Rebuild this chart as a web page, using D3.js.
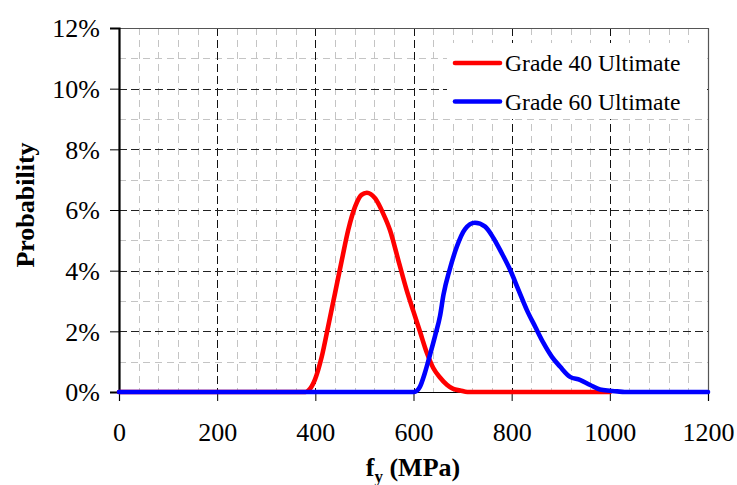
<!DOCTYPE html>
<html>
<head>
<meta charset="utf-8">
<script src="https://cdn.jsdelivr.net/npm/d3@7"></script>
<style>
  body { margin: 0; background: #fff; }
  svg { display: block; }
  text { font-family: "Liberation Serif", "Times New Roman", serif; fill: #000; }
</style>
</head>
<body>
<svg id="chart" width="737" height="485"></svg>
<script>
// ---- data ----
const seriesNames = ["Grade 40 Ultimate", "Grade 60 Ultimate"];
const seriesColors = ["#ff0000", "#0000ff"];
const xTicks = [0, 200, 400, 600, 800, 1000, 1200];
const yTicks = [0, 0.02, 0.04, 0.06, 0.08, 0.10, 0.12];
// Grade 40 ultimate strength: [fy (MPa), probability]
const grade40X = [0, 380, 386, 399, 413, 426, 440, 454, 467, 481, 494, 505, 522, 538, 552, 569, 586, 600, 613, 627, 640, 654, 668, 681, 695, 710, 1000];
const grade40P = [0, 0, 0.0005, 0.004, 0.0116, 0.0215, 0.0325, 0.0435, 0.0534, 0.0611, 0.0650, 0.0657, 0.0638, 0.0589, 0.0534, 0.0435, 0.0336, 0.0265, 0.0200, 0.0130, 0.0080, 0.0048, 0.0024, 0.0010, 0.0005, 0, 0];
// Grade 60 ultimate strength
const grade60X = [0, 600, 606, 613, 623, 634, 644, 654, 661, 674, 688, 705, 725, 746, 763, 780, 797, 814, 831, 848, 865, 882, 899, 919, 939, 960, 980, 1000, 1015, 1030, 1200];
const grade60P = [0, 0, 0.0003, 0.0017, 0.0062, 0.0125, 0.0185, 0.0250, 0.0320, 0.0405, 0.0478, 0.0537, 0.0558, 0.0545, 0.0507, 0.0457, 0.0402, 0.0336, 0.0270, 0.0215, 0.0161, 0.0116, 0.0083, 0.0050, 0.0040, 0.0023, 0.0008, 0.0004, 0.0002, 0, 0];

// ---- layout ----
const svg = d3.select("#chart");
const L = 119, R = 708, T = 28, B = 392;
const x = d3.scaleLinear().domain([0, 1200]).range([L, R]);
const y = d3.scaleLinear().domain([0, 0.12]).range([B, T]);

// minor gridlines
const xMinor = d3.range(0, 1201, 40).filter(v => v % 200 !== 0);
const yMinor = d3.range(0.01, 0.12, 0.02);
const grid = svg.append("g");
grid.selectAll(".vmin").data(xMinor).join("line")
  .attr("x1", d => Math.round(x(d)) + 0.5).attr("x2", d => Math.round(x(d)) + 0.5)
  .attr("y1", T).attr("y2", B)
  .attr("stroke", "#c4c4c4").attr("stroke-width", 1).attr("stroke-dasharray", "7,5");
grid.selectAll(".hmin").data(yMinor).join("line")
  .attr("x1", L).attr("x2", R)
  .attr("y1", d => Math.round(y(d)) + 0.5).attr("y2", d => Math.round(y(d)) + 0.5)
  .attr("stroke", "#c4c4c4").attr("stroke-width", 1).attr("stroke-dasharray", "7,5");
// major gridlines
grid.selectAll(".vmaj").data(xTicks.filter(d => d > 0 && d < 1200)).join("line")
  .attr("x1", d => Math.round(x(d)) + 0.5).attr("x2", d => Math.round(x(d)) + 0.5)
  .attr("y1", T).attr("y2", B)
  .attr("stroke", "#111").attr("stroke-width", 1).attr("stroke-dasharray", "8,4");
grid.selectAll(".hmaj").data(yTicks.filter(d => d > 0 && d < 0.12)).join("line")
  .attr("x1", L).attr("x2", R)
  .attr("y1", d => Math.round(y(d)) + 0.5).attr("y2", d => Math.round(y(d)) + 0.5)
  .attr("stroke", "#222").attr("stroke-width", 1).attr("stroke-dasharray", "8,4");
// plot border top & right
svg.append("path")
  .attr("d", `M${L},${T + 0.5}H${R + 0.5}V${B}`)
  .attr("fill", "none").attr("stroke", "#555").attr("stroke-width", 1.2);

// legend background
svg.append("rect").attr("x", 447).attr("y", 43).attr("width", 258).attr("height", 76).attr("fill", "#fff");

// axes
const xAxis = d3.axisBottom(x).tickValues(xTicks).tickSize(9).tickPadding(22).tickFormat(d3.format("d"));
const gx = svg.append("g").attr("transform", `translate(0,${B})`).call(xAxis);
gx.select(".domain").attr("stroke", "#000").attr("stroke-width", 1.2);
gx.selectAll(".tick line").attr("stroke", "#000");
gx.selectAll(".tick text").attr("font-size", 26).attr("font-family", "Liberation Serif").attr("fill", "#000");

const yAxis = d3.axisLeft(y).tickValues(yTicks).tickSize(9).tickPadding(10).tickFormat(d3.format(".0%"));
const gy = svg.append("g").attr("transform", `translate(${L},0)`).call(yAxis);
gy.select(".domain").attr("stroke", "#000").attr("stroke-width", 2.2);
gy.selectAll(".tick line").attr("stroke", "#000");
gy.selectAll(".tick text").attr("font-size", 26).attr("font-family", "Liberation Serif").attr("fill", "#000").attr("dy", "0.34em");

// lines
const mk = (xs, ps) => xs.map((v, i) => [v, ps[i]]);
const line = d3.line().x(d => x(d[0])).y(d => y(d[1])).curve(d3.curveMonotoneX);
const datasets = [mk(grade40X, grade40P), mk(grade60X, grade60P)];
datasets.forEach((ds, i) => {
  svg.append("path").datum(ds).attr("d", line)
    .attr("fill", "none").attr("stroke", seriesColors[i]).attr("stroke-width", 4.6)
    .attr("stroke-linejoin", "round").attr("stroke-linecap", "round");
});

// legend
const lg = svg.append("g");
seriesNames.forEach((name, i) => {
  const yy = 63 + i * 38.5;
  lg.append("line").attr("x1", 455).attr("x2", 500).attr("y1", yy).attr("y2", yy)
    .attr("stroke", seriesColors[i]).attr("stroke-width", 4.6).attr("stroke-linecap", "round");
  lg.append("text").attr("x", 505).attr("y", yy + 8).attr("font-size", 23.6).text(name);
});

// axis titles
const xt = svg.append("text").attr("x", 413).attr("y", 476).attr("text-anchor", "middle")
  .attr("font-size", 26).attr("font-weight", "bold");
xt.append("tspan").text("f");
xt.append("tspan").attr("font-size", 17).attr("dy", 6).text("y");
xt.append("tspan").attr("dy", -6).text(" (MPa)");

svg.append("text").attr("transform", "translate(34,205) rotate(-90)")
  .attr("text-anchor", "middle").attr("font-size", 26).attr("font-weight", "bold").text("Probability");
</script>
</body>
</html>
